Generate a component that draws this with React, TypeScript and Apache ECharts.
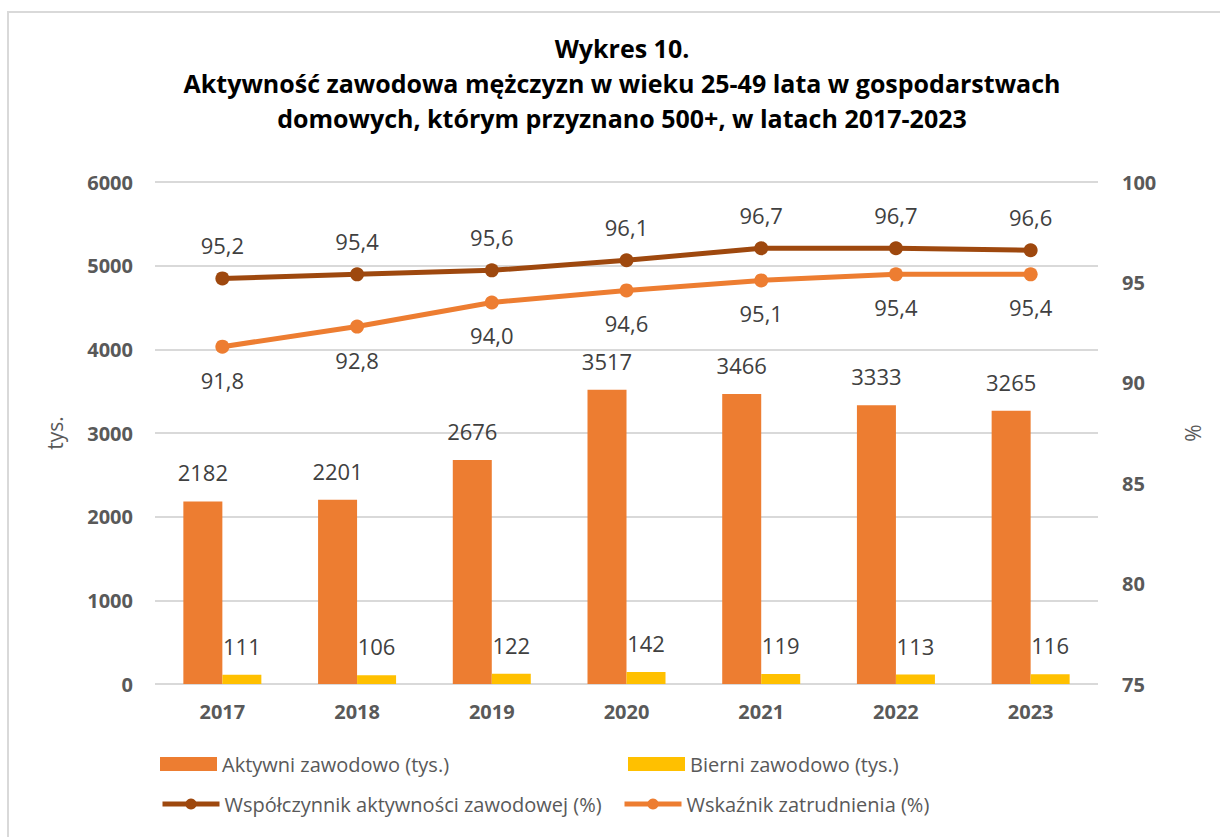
import React, { useEffect, useRef } from "react";
import * as echarts from "echarts";

const years = ["2017", "2018", "2019", "2020", "2021", "2022", "2023"];
const aktywni = [2182, 2201, 2676, 3517, 3466, 3333, 3265];
const bierni = [111, 106, 122, 142, 119, 113, 116];
const wspolczynnik = [95.2, 95.4, 95.6, 96.1, 96.7, 96.7, 96.6];
const wskaznik = [91.8, 92.8, 94.0, 94.6, 95.1, 95.4, 95.4];
const titleLines = [
  "Wykres 10.",
  "Aktywność zawodowa mężczyzn w wieku 25-49 lata w gospodarstwach",
  "domowych, którym przyznano 500+, w latach 2017-2023",
];
const seriesNames = [
  "Aktywni zawodowo (tys.)",
  "Bierni zawodowo (tys.)",
  "Współczynnik aktywności zawodowej (%)",
  "Wskaźnik zatrudnienia (%)",
];

const FONT = "'Open Sans', 'Noto Sans', sans-serif";
const fmt = (v: number) => v.toFixed(1).replace(".", ",");

export default function App() {
  const ref = useRef<HTMLDivElement>(null);
  useEffect(() => {
    if (!ref.current) return;
    const chart = echarts.init(ref.current, null, { renderer: "svg" });
    const legendText = { fontFamily: FONT, fontSize: 20, color: "#595959" };
    const legendBase = {
      itemWidth: 57,
      itemHeight: 14,
      padding: 0,
      textStyle: legendText,
    };
    const dataLabel = {
      show: true,
      fontFamily: FONT,
      fontSize: 22,
      color: "#404040",
    };
    chart.setOption({
      animation: false,
      backgroundColor: "#fff",
      title: {
        text: titleLines.join("\n"),
        left: 617,
        textAlign: "center",
        top: 25,
        textStyle: {
          fontFamily: FONT,
          fontSize: 25,
          fontWeight: "bold",
          color: "#000",
          lineHeight: 35,
        },
      },
      graphic: [
        {
          type: "rect",
          shape: { x: 8, y: 12, width: 1300, height: 900 },
          style: { fill: "none", stroke: "#d9d9d9", lineWidth: 2 },
          silent: true,
        },
      ],
      grid: { left: 155, right: 122, top: 182, bottom: 153 },
      legend: [
        { ...legendBase, data: [seriesNames[0]], left: 160, top: 754, icon: "rect" },
        { ...legendBase, data: [seriesNames[1]], left: 628, top: 754, icon: "rect" },
        {
          ...legendBase,
          data: [seriesNames[2]],
          left: 160,
          top: 794,
          lineStyle: { width: 5 },
        },
        {
          ...legendBase,
          data: [seriesNames[3]],
          left: 622,
          top: 794,
          lineStyle: { width: 5 },
        },
      ],
      xAxis: {
        type: "category",
        data: years,
        axisLine: { show: false },
        axisTick: { show: false },
        axisLabel: {
          fontFamily: FONT,
          fontSize: 20,
          fontWeight: "bold",
          color: "#595959",
          margin: 17,
        },
      },
      yAxis: [
        {
          type: "value",
          min: 0,
          max: 6000,
          interval: 1000,
          name: "tys.",
          nameLocation: "middle",
          nameGap: 90,
          nameRotate: 90,
          nameTextStyle: { fontFamily: FONT, fontSize: 21, color: "#595959" },
          axisLabel: {
            fontFamily: FONT,
            fontSize: 20,
            fontWeight: "bold",
            color: "#595959",
            margin: 22,
            formatter: (v: number) => String(v),
          },
          splitLine: { lineStyle: { color: "#d9d9d9", width: 2 } },
        },
        {
          type: "value",
          min: 75,
          max: 100,
          interval: 5,
          name: "%",
          nameLocation: "middle",
          nameGap: 84,
          nameRotate: 90,
          nameTextStyle: { fontFamily: FONT, fontSize: 21, color: "#595959" },
          axisLabel: {
            fontFamily: FONT,
            fontSize: 20,
            fontWeight: "bold",
            color: "#595959",
            margin: 24,
          },
          splitLine: { show: false },
        },
      ],
      series: [
        {
          name: seriesNames[0],
          type: "bar",
          data: aktywni,
          barWidth: 39,
          barGap: "0%",
          itemStyle: { color: "#ED7D31" },
          label: { ...dataLabel, position: "top", distance: 18 },
        },
        {
          name: seriesNames[1],
          type: "bar",
          data: bierni,
          barWidth: 39,
          barGap: "0%",
          itemStyle: { color: "#FFC000" },
          label: { ...dataLabel, position: "top", distance: 18 },
        },
        {
          name: seriesNames[2],
          type: "line",
          yAxisIndex: 1,
          data: wspolczynnik,
          symbol: "circle",
          symbolSize: 14,
          lineStyle: { color: "#9E480E", width: 5 },
          itemStyle: { color: "#9E480E" },
          label: {
            ...dataLabel,
            position: "top",
            distance: 15,
            formatter: (p: any) => fmt(p.value),
          },
        },
        {
          name: seriesNames[3],
          type: "line",
          yAxisIndex: 1,
          data: wskaznik,
          symbol: "circle",
          symbolSize: 14,
          lineStyle: { color: "#ED7D31", width: 5 },
          itemStyle: { color: "#ED7D31" },
          label: {
            ...dataLabel,
            position: "bottom",
            distance: 15,
            formatter: (p: any) => fmt(p.value),
          },
        },
      ],
    });
    return () => chart.dispose();
  }, []);
  return (
    <div
      ref={ref}
      style={{ position: "absolute", left: 0, top: 0, width: 1220, height: 837 }}
    />
  );
}
